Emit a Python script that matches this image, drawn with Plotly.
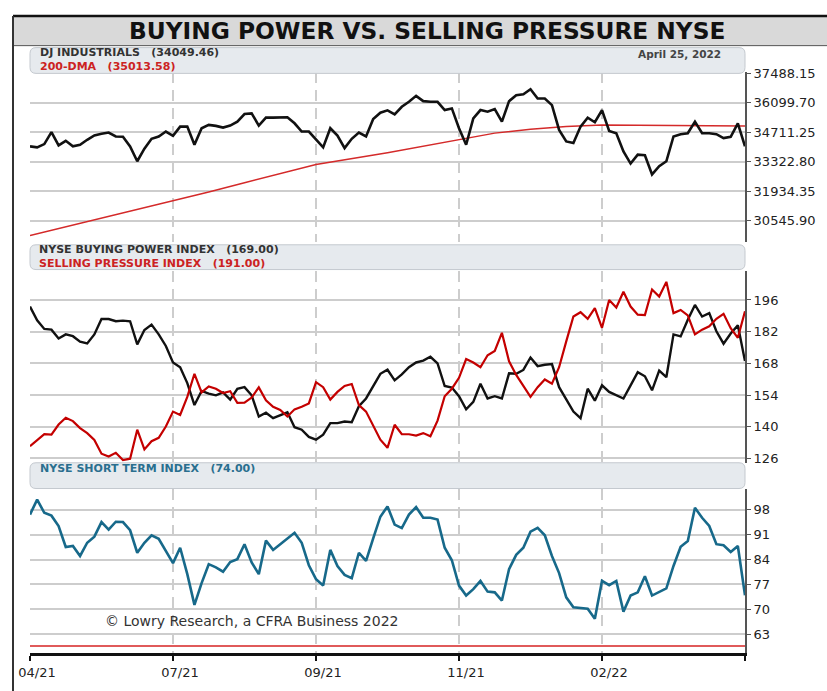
import plotly.graph_objects as go

# x positions are trading-day steps (0..100), ticks every 20 steps
x_idx = list(range(101))
x_tick_pos = [0, 20, 40, 60, 80, 100]
x_tick_labels = ["04/21", "07/21", "09/21", "11/21", "02/22", ""]

dji = [34049, 34002, 34158, 34718, 34095, 34313, 34049, 34127, 34360, 34562,
       34640, 34702, 34516, 34500, 34049, 33349, 33940, 34407, 34516, 34749,
       34547, 34982, 34982, 34127, 34905, 35060, 35014, 34936, 35029, 35216,
       35574, 35605, 35029, 35402, 35402, 35402, 35418, 35138, 34749, 34749,
       34360, 34002, 34905, 34562, 33971, 34407, 34702, 34516, 35340, 35636,
       35745, 35558, 35916, 36149, 36429, 36180, 36149, 36149, 35760, 35838,
       34905, 34127, 35371, 35760, 35683, 35807, 35216, 36180, 36461, 36507,
       36741, 36305, 36305, 35994, 34827, 34282, 34204, 34982, 35402, 35185,
       35760, 34780, 34671, 33815, 33240, 33660, 33629, 32726, 33115, 33349,
       34516, 34624, 34671, 35216, 34671, 34671, 34624, 34438, 34500, 35138,
       34049.46]

dma_idx = [0, 10, 20, 25, 30, 40, 50, 55, 60, 65, 70, 75, 80, 85, 90, 95, 100]
dma = [29848, 30665, 31481, 31900, 32336, 33194, 33754, 34062, 34361, 34674,
       34860, 34982, 35061, 35055, 35040, 35025, 35013.58]

buying = [193.1, 187.0, 183.2, 182.9, 179.0, 180.8, 180.0, 177.6, 176.8, 180.8,
          187.6, 187.6, 186.6, 186.9, 186.6, 176.4, 182.7, 185.1, 180.8, 175.7,
          168.4, 166.3, 159.3, 149.6, 155.8, 154.6, 153.9, 155.2, 152.0, 156.8,
          157.5, 153.9, 144.5, 146.2, 143.8, 145.2, 146.4, 139.8, 138.7, 135.5,
          134.3, 136.5, 141.6, 141.6, 142.3, 142.0, 149.1, 152.5, 157.8, 163.4,
          165.2, 160.5, 163.1, 166.3, 168.4, 169.2, 170.9, 168.0, 158.0, 157.3,
          153.5, 147.7, 151.0, 159.0, 152.5, 153.5, 152.5, 163.6, 163.4, 165.1,
          170.6, 166.8, 167.4, 167.7, 157.5, 152.2, 146.7, 143.8, 156.8, 151.5,
          158.3, 155.4, 153.9, 152.5, 158.3, 164.1, 162.3, 156.1, 164.8, 161.9,
          180.8, 179.9, 187.3, 193.8, 188.7, 190.2, 182.2, 176.7, 181.2, 184.8,
          169.0]

selling = [131.4, 134.0, 136.7, 136.5, 141.0, 144.0, 142.5, 139.4, 137.2, 134.2,
           128.1, 126.9, 128.5, 125.3, 125.9, 138.7, 130.0, 133.6, 135.1, 140.1,
           146.7, 145.2, 153.2, 163.4, 155.2, 157.8, 156.8, 154.9, 155.7, 150.6,
           150.7, 152.9, 157.4, 151.7, 148.8, 147.4, 144.5, 147.7, 148.8, 150.3,
           159.7, 157.5, 152.0, 155.4, 158.0, 158.9, 149.6, 146.7, 140.4, 134.3,
           130.7, 140.9, 136.7, 136.7, 136.1, 137.2, 135.8, 142.7, 153.5, 156.8,
           161.6, 169.9, 168.4, 166.3, 171.6, 173.5, 181.5, 168.9, 162.9, 158.3,
           153.2, 157.5, 160.9, 159.0, 166.3, 177.7, 188.7, 190.6, 187.7, 192.4,
           183.7, 196.0, 192.7, 199.6, 193.1, 189.5, 189.3, 200.6, 197.5, 204.0,
           190.2, 191.6, 189.2, 180.8, 182.9, 184.4, 187.7, 189.9, 183.5, 179.3,
           191.0]

short_term = [96.6, 100.8, 97.1, 96.3, 93.4, 87.5, 87.8, 85.0, 88.7, 90.4,
              94.5, 92.4, 94.6, 94.5, 92.2, 85.9, 88.7, 90.8, 89.8, 86.4,
              83.0, 87.3, 79.9, 71.3, 77.4, 82.7, 81.8, 80.6, 83.3, 84.1,
              88.3, 83.2, 79.9, 89.3, 86.7, 88.3, 89.8, 91.5, 88.7, 82.4,
              78.5, 76.7, 86.7, 82.2, 79.7, 78.8, 85.9, 83.6, 89.9, 96.0,
              98.9, 93.8, 92.8, 96.6, 98.7, 95.7, 95.7, 95.2, 87.3, 83.8,
              76.7, 73.9, 75.7, 78.0, 75.0, 74.8, 72.5, 81.3, 85.3, 87.3,
              91.8, 92.9, 90.8, 85.0, 80.2, 73.4, 70.6, 70.3, 70.2, 67.4,
              78.0, 76.8, 78.0, 69.4, 73.9, 74.8, 79.3, 73.9, 74.8, 75.9,
              82.2, 87.6, 89.2, 98.5, 95.7, 93.4, 88.3, 88.0, 86.1, 87.8,
              74.0]
short_floor = 59.75

dji_ticks = [30545.90, 31934.35, 33322.80, 34711.25, 36099.70, 37488.15]
power_ticks = [126, 140, 154, 168, 182, 196]
short_ticks = [63, 70, 77, 84, 91, 98]

FONT = "DejaVu Sans"
GRID = "#cdcdcd"
BLACK = "#111111"
RED = "#c40000"
TEAL = "#17698a"

# figure pixel frame: plot area x 30..745, paper height 653 (bottom margin 38)
W, H = 827, 691
ML, MR, MB = 30, 82, 38
PH = H - MB
PW = W - ML - MR


def py(y_px):
    return (PH - y_px) / PH


def px(x_px):
    return (x_px - ML) / PW


fig = go.Figure()

fig.add_trace(go.Scatter(x=dma_idx, y=dma, mode="lines", xaxis="x", yaxis="y",
                         line=dict(color="#d42a2a", width=1.5)))
fig.add_trace(go.Scatter(x=x_idx, y=dji, mode="lines", xaxis="x", yaxis="y",
                         line=dict(color=BLACK, width=2.6)))
fig.add_trace(go.Scatter(x=x_idx, y=buying, mode="lines", xaxis="x2", yaxis="y2",
                         line=dict(color=BLACK, width=2.4)))
fig.add_trace(go.Scatter(x=x_idx, y=selling, mode="lines", xaxis="x2", yaxis="y2",
                         line=dict(color=RED, width=2.2)))
fig.add_trace(go.Scatter(x=[x_idx[0], x_idx[-1]], y=[short_floor, short_floor], mode="lines",
                         xaxis="x3", yaxis="y3", line=dict(color="#e05a5a", width=2)))
fig.add_trace(go.Scatter(x=x_idx, y=short_term, mode="lines", xaxis="x3", yaxis="y3",
                         line=dict(color=TEAL, width=2.6)))

xgrid = dict(range=[0, 100], tickvals=x_tick_pos, showgrid=True, gridcolor=GRID,
             gridwidth=2, griddash="11px,7px", zeroline=False, fixedrange=True)
ycommon = dict(side="right", showgrid=True, gridcolor=GRID, gridwidth=2, zeroline=False,
               showline=True, linecolor="#555555", linewidth=2, ticks="outside",
               ticklen=4, tickcolor="#555555", tickfont=dict(family=FONT, size=13, color="#222222"))

fig.update_layout(
    width=W, height=H,
    margin=dict(l=ML, r=MR, t=0, b=MB),
    paper_bgcolor="white", plot_bgcolor="white",
    showlegend=False,
    xaxis=dict(**xgrid, anchor="y", showticklabels=False, ticks=""),
    xaxis2=dict(**xgrid, anchor="y2", matches="x", showticklabels=False, ticks=""),
    xaxis3=dict(**xgrid, anchor="y3", matches="x", ticktext=x_tick_labels,
                showline=True, linecolor="#111111", linewidth=3, ticks="outside",
                ticklen=5, tickwidth=2, tickcolor="#111111", ticklabelshift=7,
                tickfont=dict(family=FONT, size=13, color="#222222")),
    yaxis=dict(**ycommon, domain=[py(238), py(67)], anchor="x", range=[29554, 37535],
               tickvals=dji_ticks, ticktext=[f"{v:.2f}" for v in dji_ticks]),
    yaxis2=dict(**ycommon, domain=[py(461), py(267)], anchor="x2", range=[124.1, 209.0],
                tickvals=power_ticks),
    yaxis3=dict(**ycommon, domain=[py(653), py(487)], anchor="x3", range=[57.8, 103.9],
                tickvals=short_ticks),
)


def rounded_box(x0, x1, y0, y1, r=6):
    # rounded rectangle in paper units from pixel bounds (y0 top, y1 bottom)
    rx, ry = r / PW, r / PH
    a, b = px(x0), px(x1)
    t, u = py(y0), py(y1)
    return (f"M{a + rx},{u} L{b - rx},{u} Q{b},{u} {b},{u + ry} L{b},{t - ry} "
            f"Q{b},{t} {b - rx},{t} L{a + rx},{t} Q{a},{t} {a},{t - ry} "
            f"L{a},{u + ry} Q{a},{u} {a + rx},{u} Z")


shapes = [
    # title band
    dict(type="rect", xref="paper", yref="paper", x0=px(13), x1=px(830), y0=py(40), y1=py(10),
         fillcolor="#d9d9d9", line=dict(width=0), layer="below"),
    dict(type="line", xref="paper", yref="paper", x0=px(13), x1=px(830), y0=py(10), y1=py(10),
         line=dict(color="#111111", width=2.5)),
    dict(type="line", xref="paper", yref="paper", x0=px(13), x1=px(830), y0=py(40), y1=py(40),
         line=dict(color="#555555", width=1)),
    dict(type="line", xref="paper", yref="paper", x0=px(13), x1=px(13), y0=py(10), y1=py(695),
         line=dict(color="#333333", width=2)),
]
for top, bottom in [(42, 68), (241, 266), (461, 487)]:
    shapes.append(dict(type="path", xref="paper", yref="paper", path=rounded_box(30, 745, top, bottom),
                       fillcolor="#e6eaee", line=dict(color="#c4c9cf", width=1)))
fig.update_layout(shapes=shapes)


def label(text, x_px, y_px, color, size=11, anchor="left", bold=True):
    fig.add_annotation(text=f"<b>{text}</b>" if bold else text, xref="paper", yref="paper",
                       x=px(x_px), y=py(y_px), xanchor=anchor, yanchor="middle", showarrow=False,
                       align="left", font=dict(family=FONT, size=size, color=color))


SP = "&nbsp;&nbsp;&nbsp;"
label("BUYING POWER VS. SELLING PRESSURE NYSE", 427, 25, "#111111", size=23.3, anchor="center")
label(f"DJ INDUSTRIALS{SP}(34049.46)<br><span style='color:#cc2222'>200-DMA{SP}(35013.58)</span>",
      38, 54.5, "#333333", size=11)
label("April 25, 2022", 723, 48.5, "#444444", size=10.5, anchor="right")
label(f"NYSE BUYING POWER INDEX{SP}(169.00)<br>"
      f"<span style='color:#cc2222'>SELLING PRESSURE INDEX{SP}(191.00)</span>",
      37, 253, "#333333", size=11)
label(f"NYSE SHORT TERM INDEX{SP}(74.00)", 38, 467, "#2a6f8f", size=11)
label("© Lowry Research, a CFRA Business 2022", 103, 621, "#333333", size=14, bold=False)

fig.write_html("out.html", config={"displayModeBar": False},
               post_script="document.body.style.margin='0';")
